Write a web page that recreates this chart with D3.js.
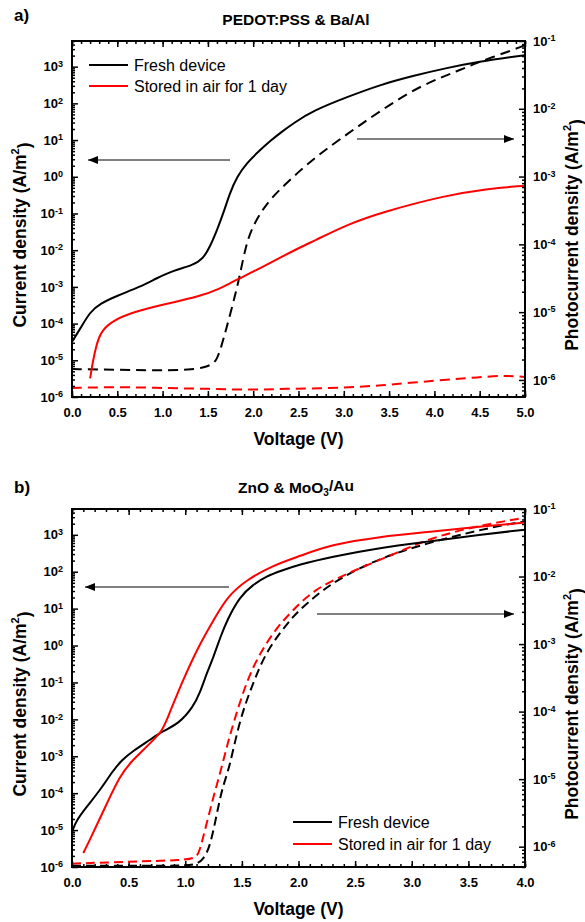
<!DOCTYPE html>
<html><head><meta charset="utf-8">
<script src="https://cdn.jsdelivr.net/npm/d3@7"></script>
<style>body{margin:0;background:#fff}svg{display:block}text{font-family:Arial,"Liberation Sans",sans-serif}</style>
</head><body>
<svg id="chart" width="585" height="922"></svg>
<script>
// ---------- Panel a) PEDOT:PSS & Ba/Al ----------
const aFreshJ_V = [0, 0.09, 0.2, 0.31, 0.5, 0.75, 0.93, 1.12, 1.34, 1.45, 1.52, 1.6, 1.67, 1.74, 1.82, 1.93, 2.07, 2.2, 2.3, 2.45, 2.66, 3.04, 3.4, 3.76, 4.14, 4.5, 4.87, 5.0];
const aFreshJ   = [3.2e-5, 7.2e-5, 2.1e-4, 3.5e-4, 5.8e-4, 1.0e-3, 1.7e-3, 2.8e-3, 3.9e-3, 6.0e-3, 1.2e-2, 3.5e-2, 0.1, 0.35, 1.0, 2.4, 5.2, 10, 15.8, 29.5, 63, 150, 320, 560, 930, 1380, 1860, 2040];
const aFreshPh_V = [0, 0.5, 1.0, 1.3, 1.45, 1.55, 1.6, 1.65, 1.7, 1.78, 1.85, 1.92, 2.0, 2.1, 2.2, 2.35, 2.5, 2.65, 2.8, 3.0, 3.4, 3.84, 4.28, 4.47, 4.87, 5.0];
const aFreshPh   = [1.45e-6, 1.41e-6, 1.38e-6, 1.41e-6, 1.51e-6, 1.7e-6, 2.0e-6, 3.16e-6, 5.5e-6, 1.38e-5, 3.3e-5, 1.0e-4, 1.9e-4, 3.2e-4, 4.8e-4, 7.6e-4, 1.17e-3, 1.74e-3, 2.5e-3, 3.9e-3, 9.3e-3, 2.2e-2, 3.7e-2, 4.8e-2, 7.4e-2, 8.7e-2];
const aAirJ_V = [0.2, 0.23, 0.27, 0.31, 0.42, 0.68, 1.05, 1.41, 1.63, 1.78, 1.85, 2.07, 2.3, 2.52, 2.66, 3.04, 3.4, 4.14, 4.6, 4.87, 5.0];
const aAirJ   = [3.2e-6, 9.3e-6, 2.6e-5, 5.4e-5, 1.12e-4, 2.1e-4, 3.5e-4, 5.5e-4, 8.9e-4, 1.41e-3, 1.7e-3, 3.16e-3, 6.3e-3, 1.2e-2, 1.74e-2, 5.0e-2, 0.105, 0.32, 0.47, 0.54, 0.56];
const aAirPh_V = [0, 0.5, 1.0, 1.5, 2.0, 2.3, 3.03, 3.5, 4.03, 4.5, 4.8, 5.0];
const aAirPh   = [7.6e-7, 7.9e-7, 7.6e-7, 7.4e-7, 7.1e-7, 7.4e-7, 7.6e-7, 8.5e-7, 9.8e-7, 1.1e-6, 1.17e-6, 1.1e-6];

// ---------- Panel b) ZnO & MoO3/Au ----------
const bFreshJ_V = [0, 0.04, 0.13, 0.25, 0.36, 0.44, 0.54, 0.69, 0.79, 0.95, 1.07, 1.13, 1.19, 1.25, 1.31, 1.37, 1.48, 1.6, 1.72, 1.84, 2.01, 2.28, 2.72, 3.16, 3.6, 4.0];
const bFreshJ   = [8.9e-6, 1.86e-5, 4.3e-5, 1.23e-4, 4.0e-4, 7.9e-4, 1.41e-3, 2.8e-3, 4.6e-3, 7.9e-3, 2.2e-2, 5.2e-2, 0.18, 0.49, 1.7, 4.9, 21, 45, 76, 105, 158, 250, 450, 660, 1000, 1380];
const bFreshPh_V = [0, 0.5, 1.0, 1.1, 1.16, 1.22, 1.28, 1.33, 1.39, 1.48, 1.6, 1.72, 1.9, 1.98, 2.28, 2.72, 3.16, 3.6, 3.9, 4.0];
const bFreshPh   = [5.2e-7, 5.2e-7, 5.2e-7, 5.5e-7, 6.5e-7, 1.0e-6, 3.16e-6, 7.8e-6, 1.45e-5, 7.6e-5, 2.7e-4, 8.1e-4, 2.0e-3, 2.9e-3, 8.1e-3, 1.9e-2, 3.2e-2, 4.9e-2, 6.2e-2, 6.5e-2];
const bAirJ_V = [0.1, 0.16, 0.22, 0.31, 0.42, 0.52, 0.63, 0.72, 0.79, 0.84, 0.97, 1.12, 1.25, 1.37, 1.54, 1.78, 2.01, 2.28, 2.72, 3.16, 3.6, 4.0];
const bAirJ   = [2.4e-6, 5.6e-6, 1.41e-5, 5.4e-5, 2.8e-4, 7.1e-4, 1.48e-3, 2.8e-3, 4.6e-3, 1.0e-2, 0.1, 1, 4.9, 21, 60, 151, 263, 537, 890, 1200, 1660, 2140];
const bAirPh_V = [0, 0.5, 1.0, 1.1, 1.13, 1.19, 1.25, 1.31, 1.37, 1.42, 1.54, 1.66, 1.81, 1.95, 2.13, 2.43, 2.87, 3.16, 3.6, 4.0];
const bAirPh   = [5.6e-7, 6.0e-7, 6.3e-7, 6.9e-7, 8.9e-7, 2.24e-6, 5.6e-6, 1.26e-5, 3.16e-5, 6.3e-5, 2.8e-4, 7.4e-4, 1.78e-3, 3.16e-3, 6.3e-3, 1.12e-2, 2.24e-2, 3.7e-2, 5.75e-2, 7.4e-2];

// ---------- ticks / labels ----------
const xMajorA = [0, 0.5, 1.0, 1.5, 2.0, 2.5, 3.0, 3.5, 4.0, 4.5, 5.0];
const xMajorB = [0, 0.5, 1.0, 1.5, 2.0, 2.5, 3.0, 3.5, 4.0];
const leftDecades = [1e-6, 1e-5, 1e-4, 1e-3, 1e-2, 1e-1, 1, 1e1, 1e2, 1e3];
const rightDecades = [1e-6, 1e-5, 1e-4, 1e-3, 1e-2, 1e-1];
const legendLabels = ["Fresh device", "Stored in air for 1 day"];
const seriesColors = ["#000000", "#ff0000"];

const svg = d3.select("#chart");

function minorLog(domain) {
  const out = [];
  const lo = Math.floor(Math.log10(domain[0])), hi = Math.ceil(Math.log10(domain[1]));
  for (let e = lo; e <= hi; e++) for (let k = 2; k <= 9; k++) {
    const v = k * Math.pow(10, e);
    if (v >= domain[0] && v <= domain[1]) out.push(v);
  }
  return out;
}
function minorLin(domain, step) {
  const out = [];
  const n = Math.round((domain[1] - domain[0]) / step);
  for (let i = 0; i <= n; i++) out.push(+(domain[0] + i * step).toFixed(3));
  return out;
}
function expLabels(sel) {
  sel.selectAll(".tick text").each(function(d) {
    const e = Math.round(Math.log10(d));
    const t = d3.select(this);
    t.text("10");
    t.append("tspan").attr("dy", "-0.5em").attr("font-size", "9px").text(e);
  });
}
function styleAxis(g) {
  g.select(".domain").remove();
  g.attr("font-family", null).attr("font-size", null);
  g.selectAll(".tick line").attr("stroke", "#000").attr("stroke-width", 1.5);
  g.selectAll(".tick text").attr("font-size", "13px").attr("font-weight", "bold").attr("fill", "#000");
}

function drawPanel(cfg) {
  const g = svg.append("g");
  const x = d3.scaleLinear().domain(cfg.xDomain).range([cfg.left, cfg.right]);
  const yL = d3.scaleLog().domain(cfg.yLDomain).range([cfg.bottom, cfg.top]);
  const yR = d3.scaleLog().domain(cfg.yRDomain).range([cfg.bottom, cfg.top]);

  const clipId = "clip" + cfg.id;
  svg.append("clipPath").attr("id", clipId).append("rect")
    .attr("x", cfg.left).attr("y", cfg.top).attr("width", cfg.right - cfg.left).attr("height", cfg.bottom - cfg.top);

  // x axes
  g.append("g").attr("transform", `translate(0,${cfg.bottom})`)
    .call(d3.axisBottom(x).tickValues(minorLin(cfg.xDomain, cfg.xMinorStep)).tickSize(-3).tickFormat(""))
    .call(styleAxis);
  g.append("g").attr("transform", `translate(0,${cfg.bottom})`)
    .call(d3.axisBottom(x).tickValues(cfg.xMajor).tickSize(-6).tickPadding(11).tickFormat(d3.format(".1f")))
    .call(styleAxis);
  g.append("g").attr("transform", `translate(0,${cfg.top})`)
    .call(d3.axisTop(x).tickValues(minorLin(cfg.xDomain, cfg.xMinorStep)).tickSize(-3).tickFormat(""))
    .call(styleAxis);
  g.append("g").attr("transform", `translate(0,${cfg.top})`)
    .call(d3.axisTop(x).tickValues(cfg.xMajor).tickSize(-6).tickFormat(""))
    .call(styleAxis);
  // left axis
  g.append("g").attr("transform", `translate(${cfg.left},0)`)
    .call(d3.axisLeft(yL).tickValues(minorLog(cfg.yLDomain)).tickSize(-3).tickFormat(""))
    .call(styleAxis);
  g.append("g").attr("transform", `translate(${cfg.left},0)`)
    .call(d3.axisLeft(yL).tickValues(leftDecades).tickSize(-6).tickPadding(9))
    .call(styleAxis).call(expLabels);
  // right axis
  g.append("g").attr("transform", `translate(${cfg.right},0)`)
    .call(d3.axisRight(yR).tickValues(minorLog(cfg.yRDomain)).tickSize(-3).tickFormat(""))
    .call(styleAxis);
  g.append("g").attr("transform", `translate(${cfg.right},0)`)
    .call(d3.axisRight(yR).tickValues(rightDecades).tickSize(-6).tickPadding(8))
    .call(styleAxis).call(expLabels);

  // curves
  const plot = g.append("g").attr("clip-path", `url(#${clipId})`);
  const lineL = d3.line().x(d => x(d[0])).y(d => yL(d[1])).curve(d3.curveBasis);
  const lineR = d3.line().x(d => x(d[0])).y(d => yR(d[1])).curve(d3.curveBasis);
  const zip = (a, b) => a.map((v, i) => [v, b[i]]);
  const dash = cfg.dash;
  plot.append("path").attr("d", lineR(zip(cfg.freshPhV, cfg.freshPh))).attr("fill", "none")
    .attr("stroke", seriesColors[0]).attr("stroke-width", 2).attr("stroke-dasharray", dash);
  plot.append("path").attr("d", lineR(zip(cfg.airPhV, cfg.airPh))).attr("fill", "none")
    .attr("stroke", seriesColors[1]).attr("stroke-width", 2).attr("stroke-dasharray", dash);
  plot.append("path").attr("d", lineL(zip(cfg.freshJV, cfg.freshJ))).attr("fill", "none")
    .attr("stroke", seriesColors[0]).attr("stroke-width", 2);
  plot.append("path").attr("d", lineL(zip(cfg.airJV, cfg.airJ))).attr("fill", "none")
    .attr("stroke", seriesColors[1]).attr("stroke-width", 2);

  // frame
  g.append("rect").attr("x", cfg.left).attr("y", cfg.top)
    .attr("width", cfg.right - cfg.left).attr("height", cfg.bottom - cfg.top)
    .attr("fill", "none").attr("stroke", "#000").attr("stroke-width", 2);

  // arrows
  cfg.arrows.forEach(a => {
    g.append("line").attr("x1", a[0]).attr("y1", a[1]).attr("x2", a[2]).attr("y2", a[1])
      .attr("stroke", "#000").attr("stroke-width", 1).attr("marker-end", "url(#arrowHead)");
  });

  // legend
  cfg.legend.rows.forEach((lab, i) => {
    const yy = cfg.legend.y + i * cfg.legend.dy;
    g.append("line").attr("x1", cfg.legend.x).attr("x2", cfg.legend.x + 39).attr("y1", yy).attr("y2", yy)
      .attr("stroke", seriesColors[i]).attr("stroke-width", 2);
    g.append("text").attr("x", cfg.legend.x + 45).attr("y", yy + 6).attr("font-size", "16px").text(lab);
  });

  // titles
  g.append("text").attr("x", 14).attr("y", cfg.tagY).attr("font-size", "17px").attr("font-weight", "bold").text(cfg.tag);
  const tt = g.append("text").attr("x", 296).attr("y", cfg.top - 16).attr("text-anchor", "middle")
    .attr("font-size", "15.5px").attr("font-weight", "bold");
  cfg.title.forEach(p => {
    const s = tt.append("tspan").text(p[0]);
    if (p[1]) s.attr("font-size", "10px").attr("dy", "0.3em");
    else if (p[2]) s.attr("dy", "-0.3em");
  });
  g.append("text").attr("x", (cfg.left + cfg.right) / 2).attr("y", cfg.bottom + 48)
    .attr("text-anchor", "middle").attr("font-size", "17.5px").attr("font-weight", "bold").text("Voltage (V)");
  const ly = (cfg.top + cfg.bottom) / 2 + 16;
  const lt = g.append("text").attr("transform", `translate(26,${ly}) rotate(-90)`).attr("text-anchor", "middle")
    .attr("font-size", "17.5px").attr("font-weight", "bold");
  lt.append("tspan").text("Current density (A/m");
  lt.append("tspan").attr("font-size", "11px").attr("dy", "-0.6em").text("2");
  lt.append("tspan").attr("dy", "0.6em").text(")");
  const rt = g.append("text").attr("transform", `translate(578,${ly}) rotate(-90)`).attr("text-anchor", "middle")
    .attr("font-size", "17.5px").attr("font-weight", "bold");
  rt.append("tspan").text("Photocurrent density (A/m");
  rt.append("tspan").attr("font-size", "11px").attr("dy", "-0.6em").text("2");
  rt.append("tspan").attr("dy", "0.6em").text(")");
}

svg.append("defs").append("marker").attr("id", "arrowHead")
  .attr("viewBox", "0 0 10 8").attr("refX", 10).attr("refY", 4)
  .attr("markerWidth", 10).attr("markerHeight", 8).attr("markerUnits", "userSpaceOnUse")
  .attr("orient", "auto")
  .append("path").attr("d", "M0,0 L10,4 L0,8 Z").attr("fill", "#000");

drawPanel({
  id: "A", tag: "a)", tagY: 21, title: [["PEDOT:PSS & Ba/Al"]],
  left: 72, right: 525, top: 41, bottom: 397,
  xDomain: [0, 5], xMajor: xMajorA, xMinorStep: 0.1,
  yLDomain: [1e-6, 5e3], yRDomain: [5.6e-7, 0.1],
  freshJV: aFreshJ_V, freshJ: aFreshJ, freshPhV: aFreshPh_V, freshPh: aFreshPh,
  airJV: aAirJ_V, airJ: aAirJ, airPhV: aAirPh_V, airPh: aAirPh,
  dash: "10,6",
  arrows: [[230, 160, 88], [357, 139, 514]],
  legend: { x: 89, y: 65, dy: 21, rows: legendLabels }
});
drawPanel({
  id: "B", tag: "b)", tagY: 493, title: [["ZnO & MoO"], ["3", true], ["/Au", false, true]],
  left: 72, right: 525, top: 509, bottom: 867,
  xDomain: [0, 4], xMajor: xMajorB, xMinorStep: 0.1,
  yLDomain: [1e-6, 5e3], yRDomain: [5e-7, 0.1],
  freshJV: bFreshJ_V, freshJ: bFreshJ, freshPhV: bFreshPh_V, freshPh: bFreshPh,
  airJV: bAirJ_V, airJ: bAirJ, airPhV: bAirPh_V, airPh: bAirPh,
  dash: "9,5",
  arrows: [[229, 587, 85], [317, 614, 514]],
  legend: { x: 293, y: 822, dy: 22, rows: legendLabels }
});
</script>
</body></html>
